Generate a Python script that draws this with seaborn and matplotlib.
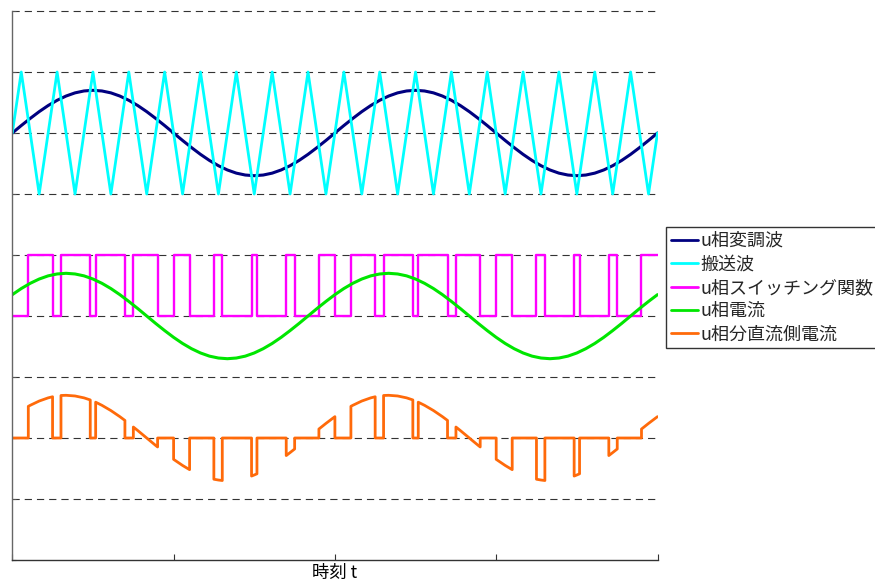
import matplotlib
matplotlib.use("Agg")
import matplotlib.pyplot as plt
import numpy as np
import pandas as pd
import seaborn as sns

# ---------------- data ----------------
# electrical phase in degrees (two fundamental periods)
phase_deg = [0, 10, 20, 30, 40, 50, 60, 70, 80, 90, 100, 110, 120, 130, 140, 150, 160, 170,
             180, 190, 200, 210, 220, 230, 240, 250, 260, 270, 280, 290, 300, 310, 320, 330, 340, 350,
             360, 370, 380, 390, 400, 410, 420, 430, 440, 450, 460, 470, 480, 490, 500, 510, 520, 530,
             540, 550, 560, 570, 580, 590, 600, 610, 620, 630, 640, 650, 660, 670, 680, 690, 700, 710,
             720]

# u-phase modulation wave
modulation = [0.0, 0.122, 0.239, 0.350, 0.450, 0.536, 0.606, 0.658, 0.689, 0.700, 0.689, 0.658,
              0.606, 0.536, 0.450, 0.350, 0.239, 0.122, 0.0, -0.122, -0.239, -0.350, -0.450, -0.536,
              -0.606, -0.658, -0.689, -0.700, -0.689, -0.658, -0.606, -0.536, -0.450, -0.350, -0.239, -0.122,
              0.0, 0.122, 0.239, 0.350, 0.450, 0.536, 0.606, 0.658, 0.689, 0.700, 0.689, 0.658,
              0.606, 0.536, 0.450, 0.350, 0.239, 0.122, 0.0, -0.122, -0.239, -0.350, -0.450, -0.536,
              -0.606, -0.658, -0.689, -0.700, -0.689, -0.658, -0.606, -0.536, -0.450, -0.350, -0.239, -0.122,
              0.0]

# u-phase current
current = [0.350, 0.450, 0.536, 0.606, 0.658, 0.689, 0.700, 0.689, 0.658, 0.606, 0.536, 0.450,
           0.350, 0.239, 0.122, 0.0, -0.122, -0.239, -0.350, -0.450, -0.536, -0.606, -0.658, -0.689,
           -0.700, -0.689, -0.658, -0.606, -0.536, -0.450, -0.350, -0.239, -0.122, 0.0, 0.122, 0.239,
           0.350, 0.450, 0.536, 0.606, 0.658, 0.689, 0.700, 0.689, 0.658, 0.606, 0.536, 0.450,
           0.350, 0.239, 0.122, 0.0, -0.122, -0.239, -0.350, -0.450, -0.536, -0.606, -0.658, -0.689,
           -0.700, -0.689, -0.658, -0.606, -0.536, -0.450, -0.350, -0.239, -0.122, 0.0, 0.122, 0.239,
           0.350]

# carrier (triangle) vertices
carrier_deg = [0, 10, 30, 50, 70, 90, 110, 130, 150, 170, 190, 210, 230, 250, 270, 290, 310, 330,
               350, 370, 390, 410, 430, 450, 470, 490, 510, 530, 550, 570, 590, 610, 630, 650, 670,
               690, 710, 720]
carrier = [0, 1, -1, 1, -1, 1, -1, 1, -1, 1, -1, 1, -1, 1, -1, 1, -1, 1, -1,
           1, -1, 1, -1, 1, -1, 1, -1, 1, -1, 1, -1, 1, -1, 1, -1, 1, -1, 0]

# switching function: on / off instants (degrees)
switch_on_deg = [17.86, 54.32, 93.02, 135.07, 180.0, 224.93, 266.98, 305.68, 342.14,
                 377.86, 414.32, 453.02, 495.07, 540.0, 584.93, 626.98, 665.68, 702.14]
switch_off_deg = [44.93, 86.98, 125.68, 162.14, 197.86, 234.32, 273.02, 315.07, 360.0,
                  404.93, 446.98, 485.68, 522.14, 557.86, 594.32, 633.02, 675.07, 720.0]
# phase current at the switching instants
current_at_on = [0.519, 0.697, 0.587, 0.180, -0.350, -0.676, -0.624, -0.288, 0.147,
                 0.519, 0.697, 0.587, 0.180, -0.350, -0.676, -0.624, -0.288, 0.147]
current_at_off = [0.676, 0.624, 0.288, -0.147, -0.519, -0.697, -0.587, -0.180, 0.350,
                  0.676, 0.624, 0.288, -0.147, -0.519, -0.697, -0.587, -0.180, 0.350]

series_names = ["u相変調波", "搬送波", "u相スイッチング関数", "u相電流", "u相分直流側電流"]
series_colors = ["#000080", "#00FFFF", "#FF00FF", "#00E600", "#FF6A0A"]
x_label = "時刻 t"

# ---------------- build step traces from the read instants ----------------
sw_x, sw_y = [0.0], [0.0]
dc_x, dc_y = [0.0], [0.0]
for on, off, ion, ioff in zip(switch_on_deg, switch_off_deg, current_at_on, current_at_off):
    sw_x += [on, on, off]
    sw_y += [0.0, 1.0, 1.0]
    dc_x += [on, on]
    dc_y += [0.0, ion]
    for d, c in zip(phase_deg, current):
        if on < d < off:
            dc_x.append(d)
            dc_y.append(c)
    dc_x.append(off)
    dc_y.append(ioff)
    if off < phase_deg[-1]:
        sw_x.append(off)
        sw_y.append(0.0)
        dc_x.append(off)
        dc_y.append(0.0)

# vertical placement of each trace (stacked display)
traces = [
    (np.array(phase_deg) / 360.0, np.array(modulation) + 7.0),
    (np.array(carrier_deg) / 360.0, np.array(carrier) + 7.0),
    (np.array(sw_x) / 360.0, np.array(sw_y) + 4.0),
    (np.array(phase_deg) / 360.0, np.array(current) + 4.0),
    (np.array(dc_x) / 360.0, np.array(dc_y) + 2.0),
]
widths = [2.2, 2.0, 1.7, 2.2, 2.0]

# ---------------- plot ----------------
sns.set_theme(style="white")
plt.rcParams["font.family"] = ["Noto Sans CJK JP", "DejaVu Sans"]

fig = plt.figure(figsize=(8.75, 5.82), dpi=100)
ax = fig.add_axes([12.3 / 875, 1 - 560 / 582, (657.5 - 12.3) / 875, (560 - 11) / 582])

for yv in range(1, 10):
    ax.axhline(yv, color="#333333", linewidth=0.8, linestyle=(0, (6.5, 4.5)),
               zorder=0.5, clip_on=False)

for (xx, yy), name, col, lw in zip(traces, series_names, series_colors, widths):
    df = pd.DataFrame({"t": xx, "v": yy})
    sns.lineplot(data=df, x="t", y="v", sort=False, estimator=None, color=col,
                 linewidth=lw, label=name, ax=ax)

ax.set_xlim(0, 2)
ax.set_ylim(0, 9)
ax.set_xticks([0, 0.5, 1.0, 1.5, 2.0])
ax.set_xticklabels([])
ax.set_yticks(range(0, 10))
ax.set_yticklabels([])
ax.tick_params(axis="x", direction="in", length=4.5, width=0.8, color="#333333", bottom=True)
ax.tick_params(axis="y", direction="in", length=3, width=0.8, color="#555555", left=True)
ax.set_ylabel("")
ax.set_xlabel(x_label, fontsize=12.5, labelpad=-0.5, color="black")

for side in ["top", "right"]:
    ax.spines[side].set_visible(False)
ax.spines["left"].set_color("#666666")
ax.spines["bottom"].set_color("#333333")
ax.spines["left"].set_linewidth(1.0)
ax.spines["bottom"].set_linewidth(1.0)

handles, labels = ax.get_legend_handles_labels()
leg = ax.legend(handles, labels, loc="upper left",
                bbox_to_anchor=(666 / 875, 1 - 227.5 / 582), bbox_transform=fig.transFigure,
                borderaxespad=0, fontsize=13, frameon=True, fancybox=False, shadow=False,
                handlelength=1.5, handletextpad=0.15, borderpad=0.25, labelspacing=0.3)
leg.get_frame().set_edgecolor("#333333")
leg.get_frame().set_linewidth(1.0)
leg.get_frame().set_facecolor("white")
leg.get_frame().set_alpha(1.0)
for h in leg.get_lines():
    h.set_linewidth(2.0)

fig.savefig("out.png", dpi=100)
